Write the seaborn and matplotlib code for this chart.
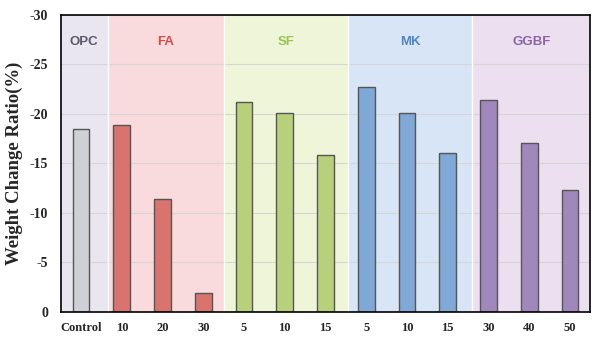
import matplotlib
matplotlib.use("Agg")
import matplotlib.pyplot as plt
import seaborn as sns
import pandas as pd

# Mixture labels and weight change ratios (%)
groups = ["OPC", "FA", "FA", "FA", "SF", "SF", "SF", "MK", "MK", "MK", "GGBF", "GGBF", "GGBF"]
dosages = ["Control", "10", "20", "30", "5", "10", "15", "5", "10", "15", "30", "40", "50"]
weight_change = [-18.5, -18.9, -11.4, -1.95, -21.2, -20.1, -15.8, -22.75, -20.1, -16.0, -21.4, -17.05, -12.3]

group_names = ["OPC", "FA", "SF", "MK", "GGBF"]
bar_colors = ["#cfd0d6", "#d9736e", "#b8d07c", "#7fa8d6", "#a088bd"]
band_colors = ["#e9e6f0", "#f9dadd", "#eff5d8", "#d8e5f6", "#ecdff0"]
label_colors = ["#5a5a6a", "#d0504e", "#9dc25a", "#4f86c6", "#8a65a8"]
band_edges = [-0.5, 0.65, 3.5, 6.55, 9.6, 12.5]

df = pd.DataFrame({"pos": [str(i) for i in range(len(dosages))],
                   "group": groups, "value": weight_change})

sns.set_style("white")
plt.rcParams["font.family"] = ["Liberation Serif", "DejaVu Serif"]

fig = plt.figure(figsize=(6.13, 3.44), dpi=100)
ax = fig.add_axes([0.099, 0.093, 0.864, 0.864])

sns.barplot(data=df, x="pos", y="value", hue="group", hue_order=group_names,
            palette=bar_colors, saturation=1, dodge=False, width=0.41,
            edgecolor="#555555", linewidth=1.0, legend=False, ax=ax, zorder=3)

# Shaded background band and title for each binder group
for i, name in enumerate(group_names):
    x0, x1 = band_edges[i], band_edges[i + 1]
    ax.axvspan(x0, x1, color=band_colors[i], zorder=0, lw=0)
    if i < len(group_names) - 1:
        ax.axvline(x1, color="white", lw=1.0, zorder=1)
    ax.text((x0 + x1) / 2, -27.3, name, ha="center", va="center",
            fontsize=9.5, fontweight="bold", color=label_colors[i],
            family="Liberation Sans", zorder=4)

ax.set_xlim(-0.5, 12.5)
ax.set_ylim(0, -30)
ax.set_yticks([0, -5, -10, -15, -20, -25, -30])
ax.set_yticklabels(["0", "-5", "-10", "-15", "-20", "-25", "-30"])
ax.set_xticks(range(len(dosages)))
ax.set_xticklabels(dosages)
for lab in ax.get_xticklabels():
    lab.set_fontweight("bold")
    lab.set_fontsize(9)
for lab in ax.get_yticklabels():
    lab.set_fontweight("bold")
    lab.set_fontsize(10)
ax.tick_params(axis="y", length=0, pad=9)
ax.tick_params(axis="x", length=0, pad=7)
ax.yaxis.grid(True, color="#d6d6d6", lw=0.8, zorder=2)
for l in ax.get_ygridlines():
    l.set_zorder(2)

ax.set_xlabel("")
ax.set_ylabel("Weight Change Ratio(%)", fontsize=13.5, fontweight="bold", labelpad=5)

for side in ["top", "right", "bottom", "left"]:
    ax.spines[side].set_visible(True)
    ax.spines[side].set_color("black")
    ax.spines[side].set_linewidth(1.2)
    ax.spines[side].set_zorder(5)

fig.savefig("out.png", dpi=100)
